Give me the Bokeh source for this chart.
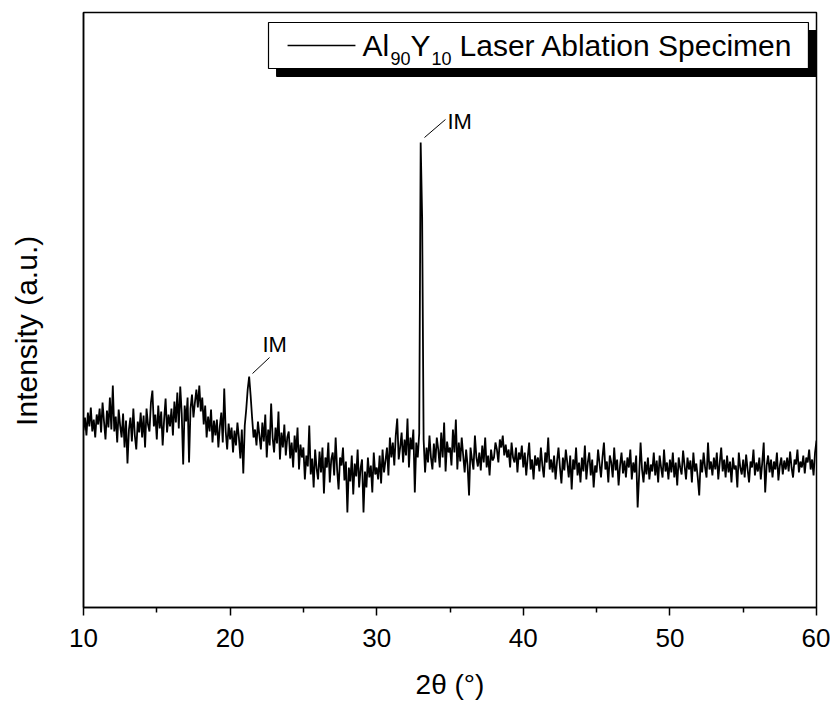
from bokeh.plotting import figure
from bokeh.models import Range1d, FixedTicker
from bokeh.embed import file_html
from bokeh.resources import INLINE
from bokeh.core.properties import value

# ---- data (2theta scan, 0.1 deg step; arbitrary units) ----
scan_start = 10.0
scan_step = 0.1
intensity = [
    177, 190, 172, 195, 181, 200, 176, 188, 170, 193,   # 10
    183, 199, 175, 205, 186, 168, 197, 180, 210, 178,   # 11
    222, 176, 191, 165, 198, 182, 170, 194, 160, 187,   # 12
    144, 178, 190, 166, 199, 172, 158, 186, 175, 195,   # 13
    170, 192, 160, 199, 183, 176, 205, 217, 181, 193,   # 14
    168, 202, 179, 196, 162, 188, 209, 175, 193, 181,   # 15
    199, 172, 206, 185, 215, 179, 221, 194, 143, 202,   # 16
    186, 210, 145, 199, 213, 190, 205, 218, 200, 222,   # 17
    196, 210, 183, 202, 170, 191, 176, 198, 165, 187,   # 18
    172, 188, 160, 181, 195, 165, 219, 176, 158, 184,   # 19
    168, 180, 155, 177, 162, 185, 170, 149, 178, 134,   # 20
    182, 198, 218, 231, 212, 190, 170, 178, 162, 186,   # 21
    172, 158, 185, 166, 193, 150, 178, 162, 204, 170,   # 22
    155, 180, 164, 196, 148, 175, 160, 183, 152, 170,   # 23
    176, 149, 165, 140, 172, 155, 180, 138, 163, 150,   # 24
    160, 128, 152, 141, 182, 133, 149, 120, 158, 139,   # 25
    128, 156, 135, 160, 114, 150, 140, 165, 125, 148,   # 26
    155, 132, 170, 138, 118, 150, 142, 160, 127, 146,   # 27
    95, 140, 126, 152, 113, 144, 131, 158, 120, 139,    # 28
    148, 95, 136, 120, 150, 130, 142, 115, 155, 133,    # 29
    140, 128, 152, 124, 158, 135, 147, 160, 132, 170,   # 30
    150, 165, 142, 172, 189, 148, 160, 175, 145, 168,   # 31
    152, 189, 140, 170, 158, 178, 115, 165, 150, 174,   # 32
    465, 390, 168, 135, 160, 145, 172, 150, 138, 164,   # 33
    145, 170, 158, 140, 175, 150, 185, 136, 166, 155,   # 34
    160, 142, 178, 155, 188, 138, 165, 146, 170, 152,   # 35
    135, 158, 142, 112, 160, 148, 138, 172, 150, 141,   # 36
    155, 137, 162, 145, 170, 140, 152, 132, 158, 147,   # 37
    150, 165, 158, 145, 168, 160, 172, 152, 163, 150,   # 38
    158, 140, 165, 150, 145, 160, 135, 155, 148, 162,   # 39
    140, 155, 132, 150, 165, 138, 148, 128, 152, 142,   # 40
    150, 136, 160, 142, 130, 155, 145, 170, 138, 148,   # 41
    135, 152, 128, 146, 160, 140, 124, 150, 137, 158,   # 42
    145, 130, 152, 118, 148, 138, 160, 132, 145, 125,   # 43
    150, 136, 162, 128, 145, 155, 132, 148, 120, 142,   # 44
    135, 158, 144, 130, 150, 165, 138, 146, 125, 152,   # 45
    145, 130, 160, 137, 148, 122, 142, 155, 134, 147,   # 46
    130, 150, 140, 158, 128, 145, 135, 152, 100, 132,   # 47
    165, 138, 125, 146, 133, 150, 128, 143, 136, 155,   # 48
    132, 147, 125, 152, 140, 130, 158, 136, 145, 128,   # 49
    148, 135, 155, 130, 145, 122, 150, 140, 133, 157,   # 50
    142, 128, 150, 138, 147, 125, 155, 136, 144, 130,   # 51
    112, 148, 135, 155, 140, 130, 165, 138, 146, 132,   # 52
    150, 138, 155, 128, 145, 160, 136, 148, 130, 152,   # 53
    135, 146, 125, 150, 138, 142, 120, 155, 140, 133,   # 54
    148, 130, 153, 138, 125, 146, 140, 158, 132, 145,   # 55
    136, 150, 128, 145, 165, 115, 142, 152, 135, 148,   # 56
    130, 146, 138, 155, 127, 142, 150, 133, 147, 138,   # 57
    150, 136, 156, 140, 130, 148, 143, 158, 135, 146,   # 58
    140, 152, 134, 150, 145, 158, 138, 148, 132, 155,   # 59
    167,                                                # 60
]
two_theta = [round(scan_start + i * scan_step, 2) for i in range(len(intensity))]

x_ticks = [10, 20, 30, 40, 50, 60]
x_minor_ticks = [15, 25, 35, 45, 55]
x_label = "2\u03b8 (\u00b0)"
y_label = "Intensity (a.u.)" + "\u00a0" * 5
peak_label = "IM"
legend_parts = ["Al", "90", "Y", "10", "Laser Ablation Specimen"]

FONT = "Liberation Sans"

p = figure(width=830, height=704, output_backend="svg", toolbar_location=None,
           x_range=Range1d(10, 60), y_range=Range1d(0, 595),
           min_border_left=83, min_border_top=12, min_border_right=14, min_border_bottom=97)
p.background_fill_color = "white"
p.border_fill_color = "white"
p.grid.visible = False
p.outline_line_color = "black"
p.outline_line_width = 1.5

# x axis
p.xaxis.ticker = FixedTicker(ticks=x_ticks, minor_ticks=x_minor_ticks)
p.xaxis.axis_line_width = 1.5
p.xaxis.major_tick_line_width = 1.5
p.xaxis.minor_tick_line_width = 1.5
p.xaxis.major_tick_out = 8
p.xaxis.major_tick_in = 0
p.xaxis.minor_tick_out = 5
p.xaxis.minor_tick_in = 0
p.xaxis.major_label_text_font = FONT
p.xaxis.major_label_text_font_size = "26px"
p.xaxis.major_label_text_color = "black"
p.xaxis.major_label_standoff = 13
p.xaxis.axis_label = x_label
p.xaxis.axis_label_text_font = FONT
p.xaxis.axis_label_text_font_size = "28px"
p.xaxis.axis_label_text_font_style = "normal"
p.xaxis.axis_label_text_color = "black"
p.xaxis.axis_label_standoff = 19

# y axis (no ticks)
p.yaxis.ticker = FixedTicker(ticks=[])
p.yaxis.axis_line_width = 1.5
p.yaxis.axis_label = y_label
p.yaxis.axis_label_text_font = FONT
p.yaxis.axis_label_text_font_size = "30px"
p.yaxis.axis_label_text_font_style = "normal"
p.yaxis.axis_label_text_color = "black"
p.yaxis.axis_label_standoff = 41

# pattern
p.line(two_theta, intensity, line_color="black", line_width=1.8)

# peak annotations
p.segment(x0=[21.53, 33.26], y0=[234, 470], x1=[22.69, 34.69], y1=[250, 488],
          line_color="black", line_width=1)
p.text(x=[22.21, 34.83], y=[263, 486], text=[peak_label, peak_label],
       text_font=value(FONT), text_font_size="22px", text_color="black",
       text_baseline="middle", text_align="left")

# legend (box with drop shadow)
p.quad(left=[23.17], right=[60.0], top=[577], bottom=[531],
       fill_color="black", line_color="black")
p.quad(left=[22.62], right=[59.45], top=[585], bottom=[539],
       fill_color="white", line_color="black", line_width=1.2)
p.segment(x0=[23.92], y0=[562], x1=[28.55], y1=[562], line_color="black", line_width=1.5)
p.text(x=[29.03, 32.31, 35.65], y=[562, 562, 562],
       text=[legend_parts[0], legend_parts[2], legend_parts[4]],
       text_font=value(FONT), text_font_size="30px", text_color="black",
       text_baseline="middle", text_align="left")
p.text(x=[30.94, 33.74], y=[549, 549], text=[legend_parts[1], legend_parts[3]],
       text_font=value(FONT), text_font_size="18px", text_color="black",
       text_baseline="middle", text_align="left")

open("out.html", "w").write(file_html(p, INLINE))
